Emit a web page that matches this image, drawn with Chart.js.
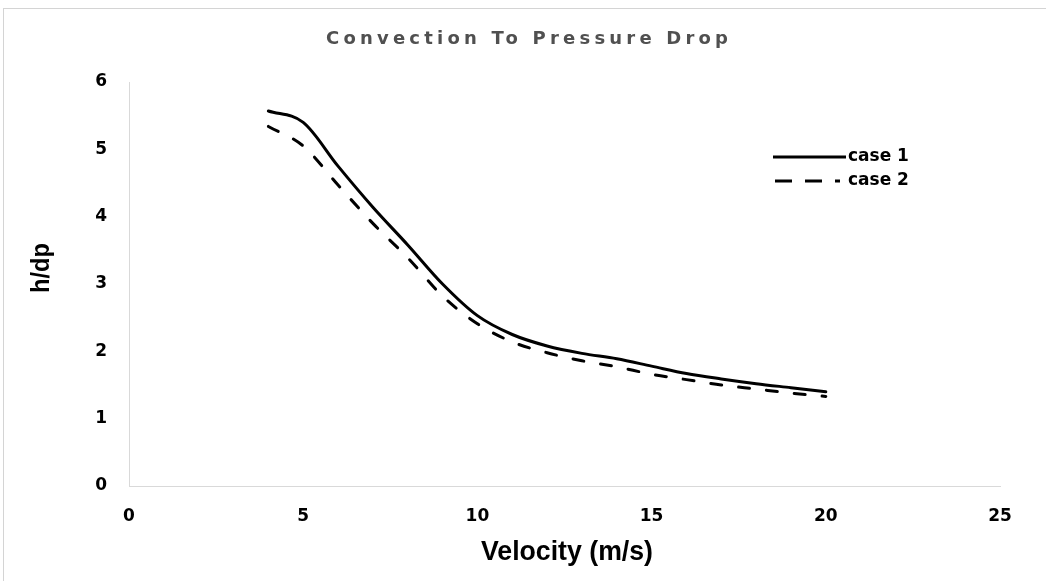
<!DOCTYPE html>
<html><head><meta charset="utf-8">
<script src="https://cdn.jsdelivr.net/npm/chart.js@4"></script>
<style>html,body{margin:0;padding:0;background:#fff;overflow:hidden}canvas{display:block}</style>
</head><body>
<canvas id="c" width="1046" height="581"></canvas>
<script>
// ---- data ----
const velocity = [4, 5, 6, 7, 8, 9, 10, 11, 12, 13, 14, 15, 16, 17, 18, 19, 20];
const case1 = [5.57, 5.40, 4.75, 4.14, 3.58, 3.00, 2.53, 2.25, 2.08, 1.97, 1.89, 1.78, 1.67, 1.59, 1.52, 1.46, 1.40];
const case2 = [5.34, 5.05, 4.47, 3.90, 3.39, 2.82, 2.41, 2.14, 1.98, 1.86, 1.77, 1.66, 1.58, 1.50, 1.44, 1.38, 1.33];
const seriesNames = ['case 1', 'case 2'];
const xTicks = [0, 5, 10, 15, 20, 25];
const yTicks = [0, 1, 2, 3, 4, 5, 6];
const chartTitle = 'Convection To Pressure Drop';
const xTitle = 'Velocity (m/s)';
const yTitle = 'h/dp';

const toPts = ys => velocity.map((v, i) => ({x: v, y: ys[i]}));

const decor = {
  id: 'decor',
  beforeDraw(chart) {
    const ctx = chart.ctx;
    ctx.save();
    ctx.fillStyle = '#fff';
    ctx.fillRect(0, 0, chart.width, chart.height);
    ctx.strokeStyle = '#d4d4d4';
    ctx.lineWidth = 1;
    ctx.strokeRect(3.5, 8.5, chart.width + 20, chart.height + 20);
    ctx.restore();
  },
  afterDraw(chart) {
    const ctx = chart.ctx;
    ctx.save();
    // title with letter spacing
    ctx.font = 'bold 18px "DejaVu Sans"';
    ctx.fillStyle = '#505050';
    ctx.textBaseline = 'middle';
    ctx.textAlign = 'left';
    const w0 = ctx.measureText(chartTitle).width;
    const ls = (402 - w0) / (chartTitle.length - 1);
    ctx.letterSpacing = ls + 'px';
    ctx.fillText(chartTitle, 527 - 201, 39);
    ctx.letterSpacing = '0px';

    // axis titles
    ctx.fillStyle = '#000';
    ctx.textAlign = 'center';
    ctx.font = 'bold 28px "Liberation Sans"';
    ctx.fillText(xTitle, 567, 552, 172);
    ctx.save();
    ctx.translate(42, 268);
    ctx.rotate(-Math.PI / 2);
    ctx.font = 'bold 26px "Liberation Sans"';
    ctx.fillText(yTitle, 0, 0, 50);
    ctx.restore();

    // legend
    const rows = [157, 181];
    chart.data.datasets.forEach((ds, i) => {
      const y = rows[i];
      ctx.save();
      ctx.strokeStyle = ds.borderColor;
      ctx.lineWidth = 3;
      ctx.lineCap = 'butt';
      ctx.setLineDash(i === 0 ? [] : [17, 13]);
      ctx.beginPath();
      ctx.moveTo(i === 0 ? 773 : 775, y);
      ctx.lineTo(i === 0 ? 846 : 840, y);
      ctx.stroke();
      ctx.restore();
      ctx.font = 'bold 17px "DejaVu Sans"';
      ctx.textAlign = 'left';
      ctx.textBaseline = 'middle';
      ctx.fillStyle = '#000';
      ctx.fillText(ds.label, 848, y);
    });
    ctx.restore();
  }
};

new Chart(document.getElementById('c'), {
  type: 'line',
  data: {
    datasets: [
      {label: seriesNames[0], data: toPts(case1), borderColor: '#000', borderWidth: 3,
       pointRadius: 0, cubicInterpolationMode: 'monotone', fill: false, borderCapStyle: 'round'},
      {label: seriesNames[1], data: toPts(case2), borderColor: '#000', borderWidth: 3,
       borderDash: [11, 17], borderCapStyle: 'round',
       pointRadius: 0, cubicInterpolationMode: 'monotone', fill: false}
    ]
  },
  options: {
    responsive: false,
    animation: false,
    devicePixelRatio: 1,
    layout: {padding: {top: 82, right: 46, left: 0, bottom: 0}},
    plugins: {legend: {display: false}, title: {display: false}, tooltip: {enabled: false}},
    scales: {
      x: {
        type: 'linear', min: 0, max: 25,
        afterBuildTicks: s => { s.ticks = xTicks.map(v => ({value: v})); },
        afterFit: s => { s.height = 95; },
        grid: {display: false, drawTicks: false},
        border: {display: true, color: '#d9d9d9', width: 1},
        ticks: {color: '#000', font: {family: 'DejaVu Sans', weight: 'bold', size: 17}, padding: 20, maxRotation: 0}
      },
      y: {
        type: 'linear', min: 0, max: 6,
        afterBuildTicks: s => { s.ticks = yTicks.map(v => ({value: v})); },
        afterFit: s => { s.width = 129; },
        grid: {display: false, drawTicks: false},
        border: {display: true, color: '#d9d9d9', width: 1},
        ticks: {color: '#000', font: {family: 'DejaVu Sans', weight: 'bold', size: 17}, padding: 22}
      }
    }
  },
  plugins: [decor]
});
</script>
</body></html>
